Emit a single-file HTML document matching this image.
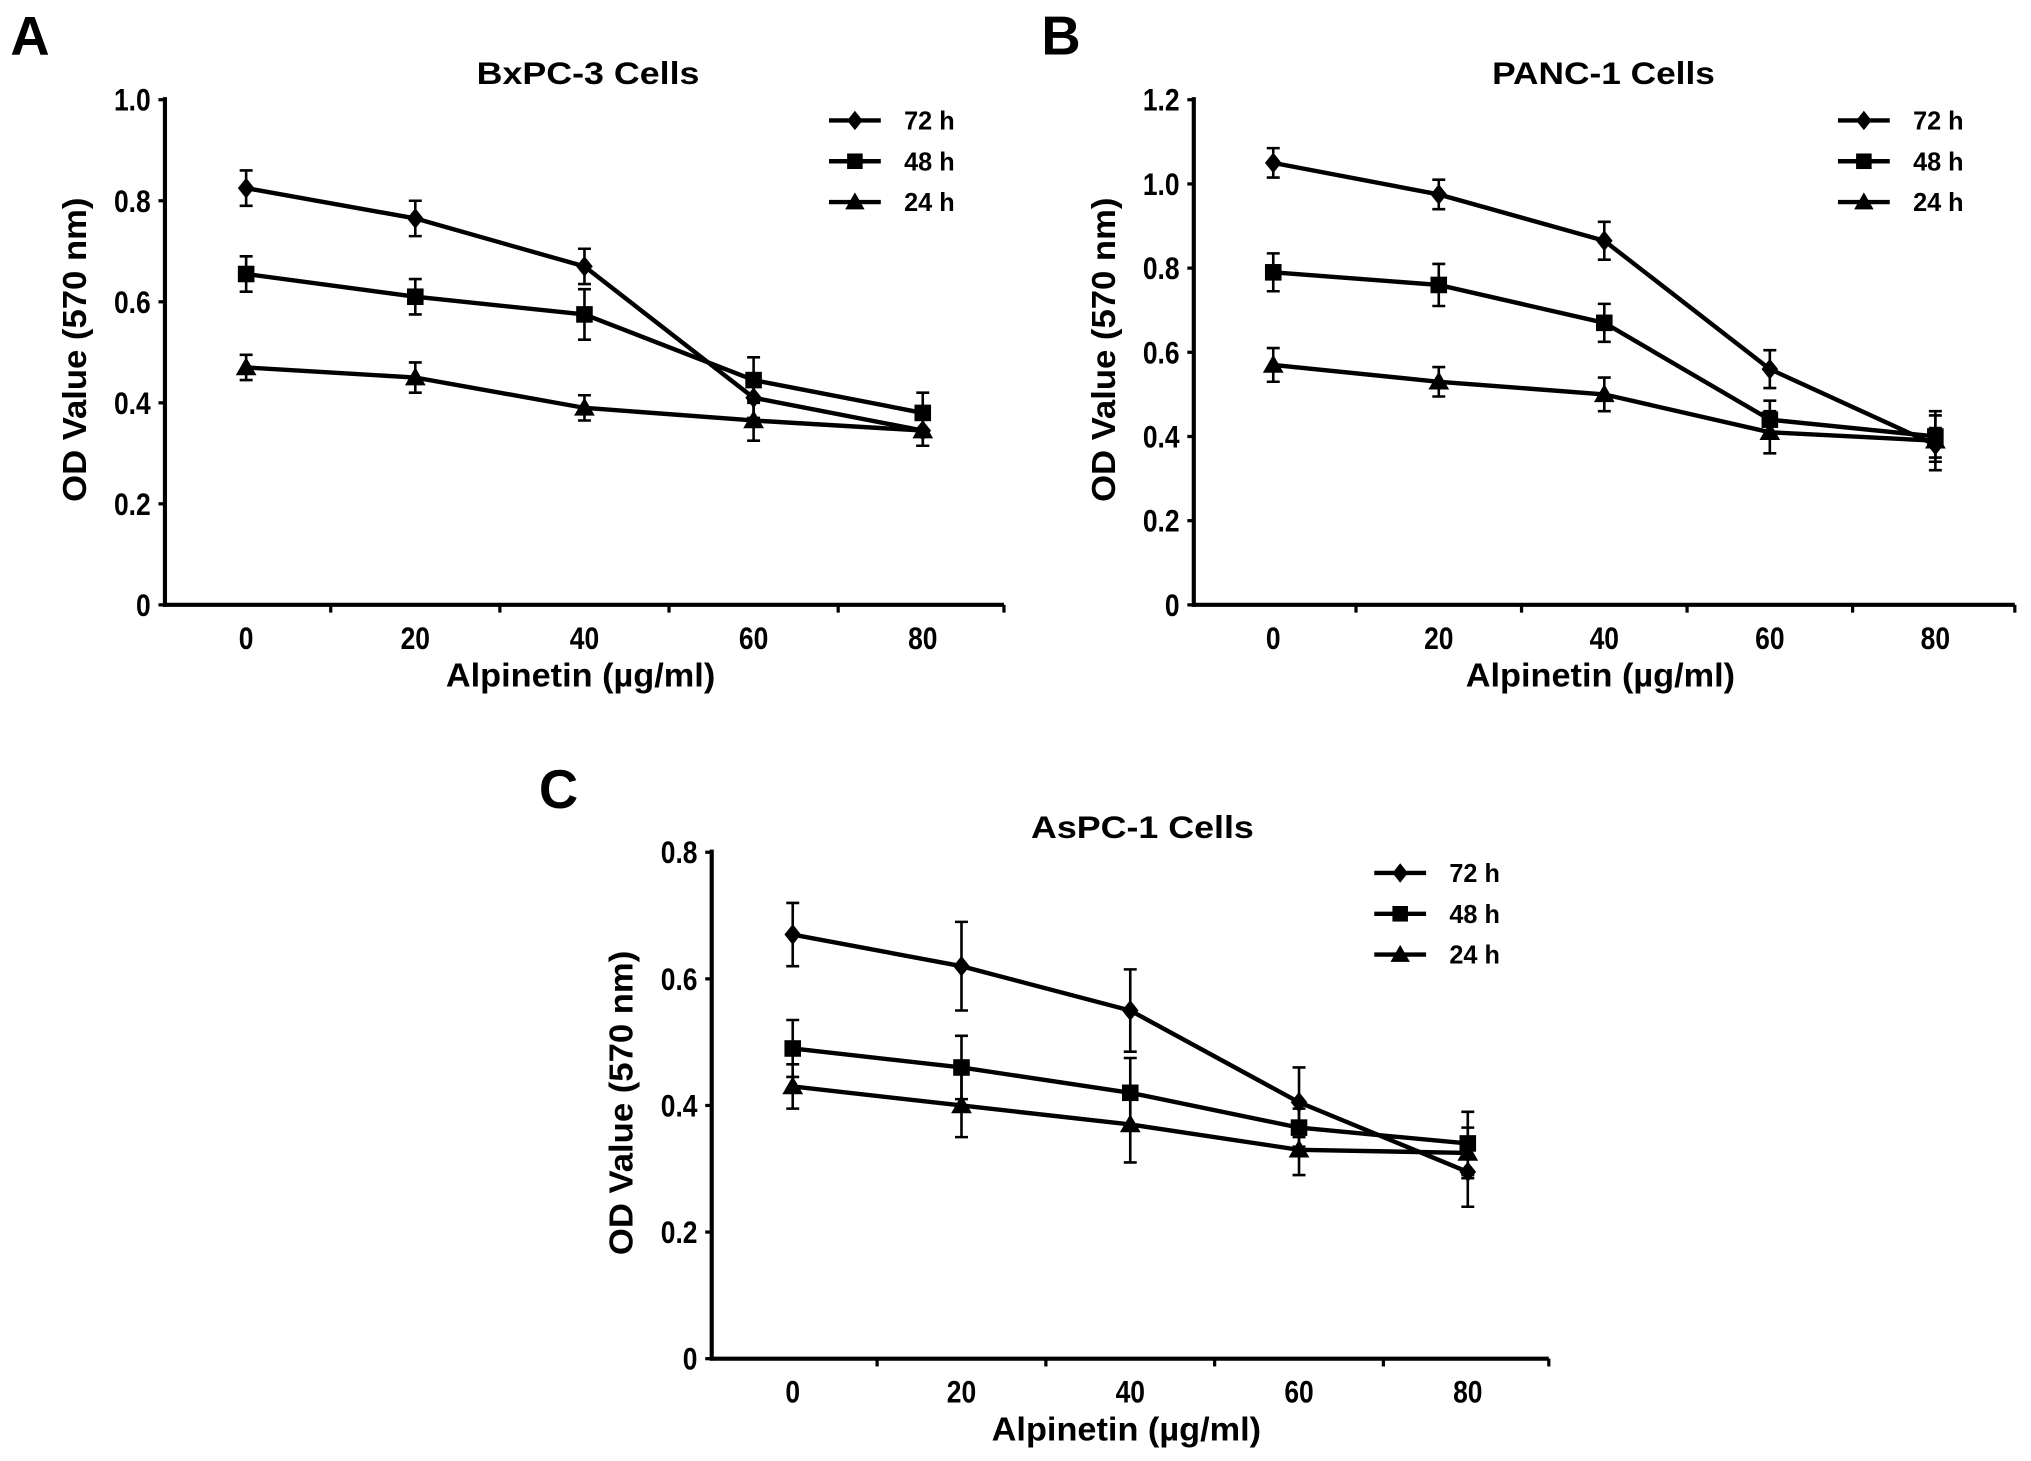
<!DOCTYPE html>
<html><head><meta charset="utf-8"><style>
html,body{margin:0;padding:0;background:#fff}
svg{display:block}
text{font-family:"Liberation Sans",Arial,sans-serif;font-weight:bold;fill:#000}
</style></head><body>
<svg id="fig" width="2031" height="1461" viewBox="0 0 1568 1128" xmlns="http://www.w3.org/2000/svg"></svg>
<script>
const doses = [0, 20, 40, 60, 80];
const seriesNames = ["72 h", "48 h", "24 h"];
// Panel A - BxPC-3
const a72 = [0.825, 0.765, 0.67, 0.41, 0.345];
const a72e = [0.035, 0.035, 0.035, 0.04, 0.03];
const a48 = [0.655, 0.61, 0.575, 0.445, 0.38];
const a48e = [0.035, 0.035, 0.05, 0.045, 0.04];
const a24 = [0.47, 0.45, 0.39, 0.365, 0.345];
const a24e = [0.025, 0.03, 0.025, 0.04, 0.03];
const aTicks = ["0", "0.2", "0.4", "0.6", "0.8", "1.0"];
// Panel B - PANC-1
const b72 = [1.05, 0.975, 0.865, 0.56, 0.38];
const b72e = [0.035, 0.035, 0.045, 0.045, 0.04];
const b48 = [0.79, 0.76, 0.67, 0.44, 0.40];
const b48e = [0.045, 0.05, 0.045, 0.045, 0.05];
const b24 = [0.57, 0.53, 0.50, 0.41, 0.39];
const b24e = [0.04, 0.035, 0.04, 0.05, 0.07];
const bTicks = ["0", "0.2", "0.4", "0.6", "0.8", "1.0", "1.2"];
// Panel C - AsPC-1
const c72 = [0.67, 0.62, 0.55, 0.405, 0.295];
const c72e = [0.05, 0.07, 0.065, 0.055, 0.055];
const c48 = [0.49, 0.46, 0.42, 0.365, 0.34];
const c48e = [0.045, 0.05, 0.055, 0.03, 0.05];
const c24 = [0.43, 0.40, 0.37, 0.33, 0.325];
const c24e = [0.035, 0.05, 0.06, 0.04, 0.04];
const cTicks = ["0", "0.2", "0.4", "0.6", "0.8"];

const NS = "http://www.w3.org/2000/svg";
const svg = document.getElementById("fig");
function mk(tag, attrs, parent, txt){
  const e = document.createElementNS(NS, tag);
  for (const k in attrs) e.setAttribute(k, attrs[k]);
  if (txt !== undefined) e.textContent = txt;
  (parent || svg).appendChild(e);
  return e;
}
function marker(g, shape, x, y, s){
  let m;
  if (shape === 0) m = mk("polygon", {points:`${x},${y-s} ${x+s*0.8},${y} ${x},${y+s} ${x-s*0.8},${y}`, fill:"#000"}, g);
  else if (shape === 1) m = mk("rect", {x:x-s*0.8, y:y-s*0.8, width:s*1.6, height:s*1.6, fill:"#000"}, g);
  else m = mk("polygon", {points:`${x},${y-s} ${x+s},${y+s*0.75} ${x-s},${y+s*0.75}`, fill:"#000"}, g);
  return m;
}
function panel(cfg){
  const g = mk("g", {});
  
  
  const X = v => cfg.x0 + (v / 20) * cfg.xs;
  const Y = v => cfg.yb - (v / cfg.ymax) * (cfg.yb - cfg.yt);
  const xL = X(-9.6), xR = X(89.6);
  const L = mk("text", {x:cfg.lx, y:cfg.ly, "font-size":42}, g, cfg.letter);
  
  
  const t = mk("text", {x:cfg.tx, y:cfg.ty, "font-size":24, "text-anchor":"middle", textLength:172, lengthAdjust:"spacingAndGlyphs"}, g, cfg.title);
  
  
  const ya = mk("line", {x1:xL, y1:cfg.yt-2, x2:xL, y2:cfg.yb+1.5, stroke:"#000","stroke-width":3.2}, g);
  
  
  const xa = mk("line", {x1:xL-1.5, y1:cfg.yb, x2:xR, y2:cfg.yb, stroke:"#000","stroke-width":3.2}, g);
  
  
  cfg.ticks.forEach((lab, i) => {
    const v = i * 0.2, y = Y(v);
    mk("line", {x1:xL-5, y1:y, x2:xL, y2:y, stroke:"#000","stroke-width":2.5}, g);
    const tl = mk("text", {x:xL-11, y:y+8.5, "font-size":24, "text-anchor":"end", transform:`translate(${xL-11} 0) scale(0.85 1) translate(${-(xL-11)} 0)`}, g, lab);
    
    
  });
  [10, 30, 50, 70, 89.6].forEach(v => mk("line", {x1:X(v), y1:cfg.yb, x2:X(v), y2:cfg.yb+6, stroke:"#000","stroke-width":2.5}, g));
  doses.forEach(d => {
    const tl = mk("text", {x:X(d), y:cfg.yb+34, "font-size":24, "text-anchor":"middle", transform:`translate(${X(d)} 0) scale(0.85 1) translate(${-X(d)} 0)`}, g, String(d));
    
    
  });
  const xt = mk("text", {x:(xL+xR)/2 - 3, y:cfg.yb+63, "font-size":26, "text-anchor":"middle", textLength:208, lengthAdjust:"spacingAndGlyphs"}, g, "Alpinetin (µg/ml)");
  
  
  const yc = (cfg.yt + cfg.yb)/2 - 2, yx = xL - 61;
  const yt = mk("text", {x:yx, y:yc, "font-size":26, "text-anchor":"middle", textLength:235, lengthAdjust:"spacingAndGlyphs", transform:`rotate(-90 ${yx} ${yc})`}, g, "OD Value (570 nm)");
  
  
  cfg.series.forEach((s, si) => {
    const sg = mk("g", {}, g);
    
    
    const pts = s.v.map((v, i) => `${X(doses[i])},${Y(v)}`).join(" ");
    mk("polyline", {points:pts, fill:"none", stroke:"#000","stroke-width":3.4}, sg);
    s.v.forEach((v, i) => {
      const x = X(doses[i]);
      const e = s.e[i];
      const eb = mk("path", {d:`M${x},${Y(v+e)}V${Y(v-e)}M${x-5},${Y(v+e)}H${x+5}M${x-5},${Y(v-e)}H${x+5}`, stroke:"#000","stroke-width":2, fill:"none"}, sg);
      
      
      const m = marker(sg, si, x, Y(v), 8);
      
      
    });
    const ly = cfg.legY + si * 31.5;
    const le = mk("g", {}, g);
    
    
    mk("line", {x1:cfg.legX, y1:ly, x2:cfg.legX+40, y2:ly, stroke:"#000","stroke-width":3.4}, le);
    marker(le, si, cfg.legX+20, ly, 7.5);
    mk("text", {x:cfg.legX+58, y:ly+7, "font-size":20, textLength:39, lengthAdjust:"spacingAndGlyphs"}, le, seriesNames[si]);
  });
}
panel({name:"panel-a-bxpc3", letter:"A", lx:8, ly:42, title:"BxPC-3 Cells", tx:454, ty:65,
  x0:190, xs:130.6, yt:77, yb:467, ymax:1.0, ticks:aTicks, legX:640, legY:93,
  series:[{v:a72,e:a72e},{v:a48,e:a48e},{v:a24,e:a24e}]});
panel({name:"panel-b-panc1", letter:"B", lx:804, ly:42, title:"PANC-1 Cells", tx:1238, ty:65,
  x0:983, xs:127.8, yt:77, yb:467, ymax:1.2, ticks:bTicks, legX:1419, legY:93,
  series:[{v:b72,e:b72e},{v:b48,e:b48e},{v:b24,e:b24e}]});
panel({name:"panel-c-aspc1", letter:"C", lx:416, ly:624, title:"AsPC-1 Cells", tx:882, ty:647,
  x0:612, xs:130.3, yt:658, yb:1049, ymax:0.8, ticks:cTicks, legX:1061, legY:674,
  series:[{v:c72,e:c72e},{v:c48,e:c48e},{v:c24,e:c24e}]});
</script>
</body></html>
